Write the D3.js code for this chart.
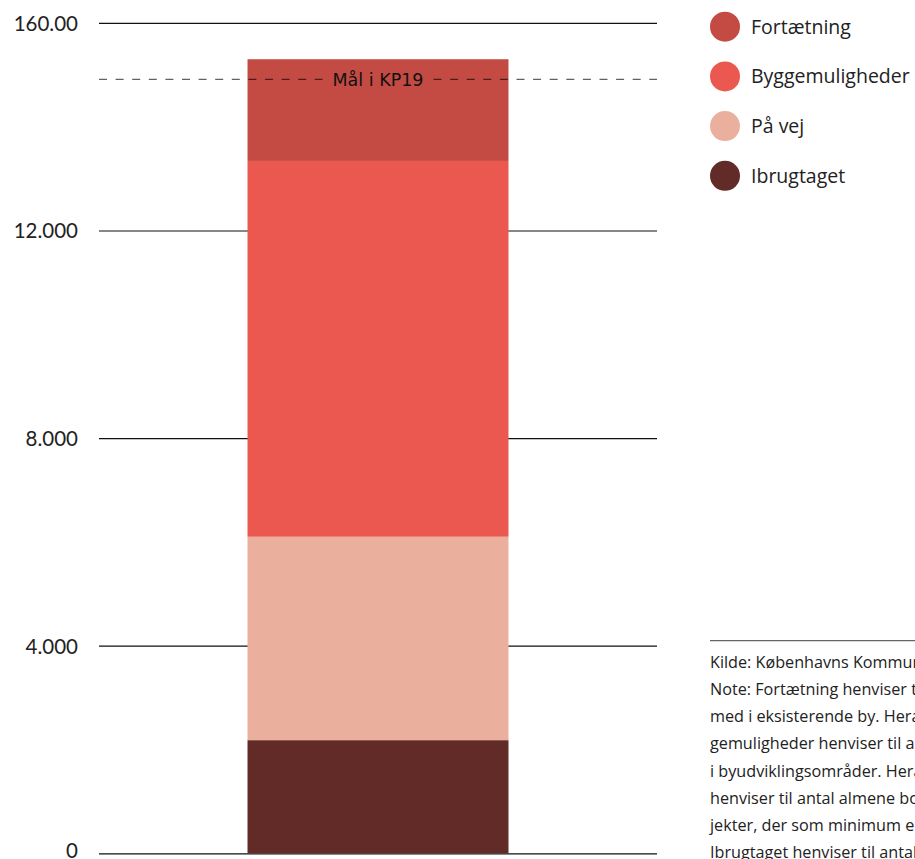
<!DOCTYPE html>
<html><head><meta charset="utf-8">
<script src="https://cdn.jsdelivr.net/npm/d3@7"></script>
<style>
html,body{margin:0;padding:0;background:#fff;overflow:hidden;}
svg{display:block;font-family:Lato,"Open Sans",sans-serif;}
</style></head>
<body>
<svg id="c" width="915" height="859"></svg>
<script>
// ---- data ----
const categories = ["Almene boliger"];
const seriesNames = ["Ibrugtaget", "På vej", "Byggemuligheder", "Fortætning"];
const seriesValues = [2180, 3920, 7240, 1960];
const seriesColors = ["#622B27", "#EBB09D", "#EB5850", "#C44B43"];
const legendOrder = ["Fortætning", "Byggemuligheder", "På vej", "Ibrugtaget"];
const tickValues = [0, 4000, 8000, 12000, 16000];
const tickLabels = ["0", "4.000", "8.000", "12.000", "160.00"];
const targetValue = 14910;
const targetLabel = "Mål i KP19";
const noteLines = [
  "Kilde: Københavns Kommune",
  "Note: Fortætning henviser til potentielle almene boliger",
  "med i eksisterende by. Heraf er en del endnu ikke Byg-",
  "gemuligheder henviser til almene boliger, der er planlagt",
  "i byudviklingsområder. Heraf er en del sikret. På vej",
  "henviser til antal almene boliger i igangværende pro-",
  "jekter, der som minimum er givet skema A-tilsagn.",
  "Ibrugtaget henviser til antal almene boliger taget i brug."
];

// ---- chart ----
const svg = d3.select("#c");
const x0 = 99, x1 = 657;
const y = d3.scaleLinear().domain([0, 16000]).range([853.3, 22.9]);
const x = d3.scaleBand().domain(categories).range([x0, x1]).paddingInner(0.3627).paddingOuter(0.3627);

// gridlines + tick labels
const ax = d3.axisLeft(y).tickValues(tickValues).tickSize(-(x1 - x0)).tickFormat((d, i) => tickLabels[i]);
const g = svg.append("g").attr("transform", `translate(${x0},0)`).call(ax);
g.select(".domain").remove();
g.selectAll(".tick line").attr("stroke", "#111").attr("stroke-width", 1.2);
g.selectAll(".tick text").attr("x", -21).attr("dy", d => d === 0 ? "0.2em" : "0.36em")
  .attr("font-size", 20.5).attr("fill", "#222").attr("font-family", "Lato, sans-serif");

// stacked bar
const rows = [Object.fromEntries([["cat", categories[0]], ...seriesNames.map((n, i) => [n, seriesValues[i]])])];
const stack = d3.stack().keys(seriesNames)(rows);
const color = d3.scaleOrdinal().domain(seriesNames).range(seriesColors);
svg.append("g").selectAll("rect").data(stack).join("rect")
  .attr("x", d => x(d[0].data.cat))
  .attr("width", x.bandwidth())
  .attr("y", d => y(d[0][1]))
  .attr("height", d => y(d[0][0]) - y(d[0][1]))
  .attr("fill", d => color(d.key));

// target line with label
const ty = y(targetValue);
const cx = x(categories[0]) + x.bandwidth() / 2;
const tg = svg.append("g");
const lbl = tg.append("text").attr("x", cx).attr("y", ty).attr("dy", "0.35em")
  .attr("text-anchor", "middle").attr("fill", "#111")
  .attr("font-family", "'DejaVu Sans', sans-serif").attr("font-size", 17.5)
  .text(targetLabel);
const bb = lbl.node().getBBox();
const gap = 10;
[[x0, bb.x - gap], [bb.x + bb.width + gap, x1]].forEach(([a, b]) => {
  tg.append("line").attr("x1", a).attr("x2", b).attr("y1", ty).attr("y2", ty)
    .attr("stroke", "rgba(0,0,0,0.62)").attr("stroke-width", 1.3).attr("stroke-dasharray", "8,8.6");
});

// legend
const lg = svg.append("g");
legendOrder.forEach((n, i) => {
  const yy = 26.7 + i * 49.7;
  lg.append("circle").attr("cx", 725).attr("cy", yy).attr("r", 15).attr("fill", color(n));
  lg.append("text").attr("x", 751).attr("y", yy).attr("dy", "0.36em")
    .attr("font-family", "'Open Sans', sans-serif")
    .attr("font-size", 19.5).attr("fill", "#222").text(n);
});

// note
svg.append("line").attr("x1", 710).attr("x2", 915).attr("y1", 640.7).attr("y2", 640.7)
  .attr("stroke", "#666").attr("stroke-width", 1.2);
svg.append("g").selectAll("text").data(noteLines).join("text")
  .attr("x", 710).attr("y", (d, i) => 662 + i * 27.2).attr("dy", "0.36em")
  .attr("font-family", "'Open Sans', sans-serif")
  .attr("font-size", 16.2).attr("fill", "#222").text(d => d);
</script>
</body></html>
